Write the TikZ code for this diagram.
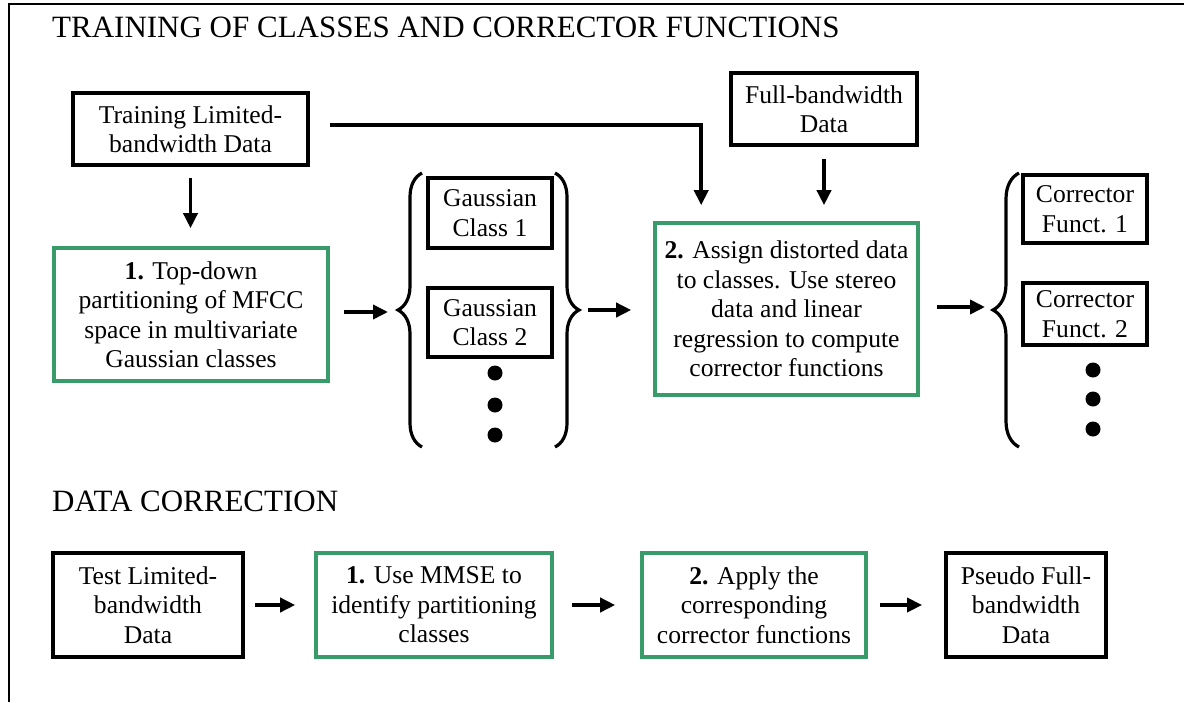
\documentclass[tikz,border=0pt]{standalone}
\usepackage{fontspec}
\setmainfont{Liberation Serif}
\usetikzlibrary{arrows.meta,decorations.pathreplacing,calc}
\definecolor{boxgreen}{RGB}{56,155,105}
\begin{document}
\begin{tikzpicture}[x=1pt,y=-1pt,
  txt/.style={font=\fontsize{25.6}{29.5}\selectfont, align=center, inner sep=0pt},
  blackbox/.style={txt, draw=black, line width=3.8pt},
  greenbox/.style={txt, draw=boxgreen, line width=3.6pt},
  title/.style={anchor=base west, inner sep=0pt, font=\fontsize{31}{36}\selectfont},
  arr/.style={line width=3.6pt, -{Triangle[length=15pt,width=14pt]}},
  bracestyle/.style={line width=3.2pt, decorate, decoration={brace, amplitude=#1}},
  dot/.style={fill=black}
]
\useasboundingbox (0,0) rectangle (1184,702);
\draw[line width=2.2pt] (9,702) -- (9,4) -- (1184,4);

\node[title] (t1) at (52,37) {TRAINING OF CLASSES AND CORRECTOR FUNCTIONS};
\node[title] (t2) at (52,511) {DATA CORRECTION};

% top section
\node[blackbox, minimum width=235pt, minimum height=72pt] (A) at (190.5,129) {Training Limited-\\bandwidth Data};
\node[blackbox, minimum width=186pt, minimum height=72pt] (F) at (824,109) {Full-bandwidth\\Data};
\node[greenbox, minimum width=274pt, minimum height=133pt] (B1) at (191,314.5) {\textbf{1.} Top-down\\partitioning of MFCC\\space in multivariate\\Gaussian classes};
\node[blackbox, minimum width=124pt, minimum height=70pt] (G1) at (490,213) {Gaussian\\Class 1};
\node[blackbox, minimum width=124pt, minimum height=69pt] (G2) at (490,322.5) {Gaussian\\Class 2};
\node[greenbox, minimum width=263pt, minimum height=172pt] (B2) at (786.5,309) {\textbf{2.} Assign distorted data\\to classes. Use stereo\\data and linear\\regression to compute\\corrector functions};
\node[blackbox, minimum width=124pt, minimum height=68pt] (C1) at (1085,209) {Corrector\\Funct. 1};
\node[blackbox, minimum width=124pt, minimum height=62pt] (C2) at (1085,314) {Corrector\\Funct. 2};

\fill[dot] (495,373) circle (7.5pt) (495,405) circle (7.5pt) (495,435) circle (7.5pt);
\fill[dot] (1093,370) circle (7.5pt) (1093,399) circle (7.5pt) (1093,429) circle (7.5pt);

% braces
\draw[bracestyle=24pt] (422,447) -- (422,173);
\draw[bracestyle=24pt] (555,173) -- (555,447);
\draw[bracestyle=26pt] (1019,447) -- (1019,173);
\coordinate (lbtip) at (398,312);
\coordinate (rbtip) at (580,310);
\coordinate (cbtip) at (993,307);

% connectors top
\draw[arr, shorten <=11pt, shorten >=18pt] (A.south) -- (B1.north -| A.south);
\draw[arr, shorten >=16pt] ($(A.east)+(20,-4)$) -| ($(B2.north west)+(48,0)$);
\draw[arr, shorten <=12pt, shorten >=16pt] (F.south) -- (F.south |- B2.north);
\draw[arr, shorten <=14pt, shorten >=10pt] (B1.east |- lbtip) -- (lbtip);
\draw[arr, shorten <=8pt, shorten >=22pt] (rbtip) -- (B2.west |- rbtip);
\draw[arr, shorten <=17pt, shorten >=8pt] (B2.east |- cbtip) -- (cbtip);

% bottom row
\node[blackbox, minimum width=190pt, minimum height=104pt] (T) at (148,605) {Test Limited-\\bandwidth\\Data};
\node[greenbox, minimum width=236pt, minimum height=104pt] (M1) at (434,605) {\textbf{1.} Use MMSE to\\identify partitioning\\classes};
\node[greenbox, minimum width=224pt, minimum height=104pt] (M2) at (754,605) {\textbf{2.} Apply the\\corresponding\\corrector functions};
\node[blackbox, minimum width=160pt, minimum height=104pt] (P) at (1026,605) {Pseudo Full-\\bandwidth\\Data};

\draw[arr, shorten <=10pt, shorten >=19pt] (T.east) -- (M1.west);
\draw[arr, shorten <=18pt, shorten >=25pt] (M1.east) -- (M2.west);
\draw[arr, shorten <=12pt, shorten >=22pt] (M2.east) -- (P.west);
\end{tikzpicture}
\end{document}
